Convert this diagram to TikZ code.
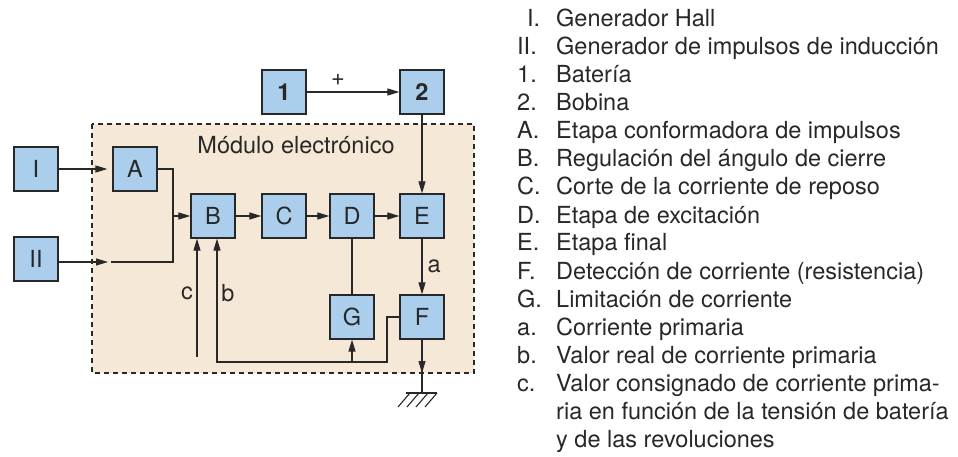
\documentclass[tikz,border=0pt]{standalone}
\usepackage{fontspec}
\setmainfont{TeX Gyre Heros}
\usetikzlibrary{arrows.meta}
\definecolor{boxblue}{RGB}{170,206,235}
\definecolor{modbg}{RGB}{246,232,214}
\definecolor{ink}{RGB}{40,40,40}
\begin{document}
\begin{tikzpicture}[x=1pt,y=-1pt,
  blk/.style={draw=ink, line width=1.2pt, fill=boxblue, minimum size=44pt, inner sep=0pt, text=ink, font=\fontsize{23.5}{28}\selectfont},
  wire/.style={draw=ink, line width=1.1pt},
  arr/.style={wire, -{Triangle[length=12pt,width=7pt]}},
  lbl/.style={font=\fontsize{23.5}{28}\selectfont, text=ink, inner sep=0pt},
  leg/.style={lbl, anchor=base west}]
\useasboundingbox (0,0) rectangle (958,457);
\fill[white] (0,0) rectangle (958,457);
% module
\filldraw[fill=modbg, draw=ink, line width=1.1pt, dash pattern=on 5pt off 4pt] (92,124) rectangle (474,373);
\node[lbl] (mod) at (296,145) {Módulo electrónico};
% blocks
\node[blk] (one) at (284,92) {\textbf{1}};
\node[blk] (two) at (422,92) {\textbf{2}};
\node[blk] (I) at (36,169) {I};
\node[blk] (II) at (36,259) {II};
\node[blk] (A) at (135,169) {A};
\node[blk] (B) at (213,216) {B};
\node[blk] (C) at (284,216) {C};
\node[blk] (D) at (352,216) {D};
\node[blk] (E) at (422,216) {E};
\node[blk] (G) at (352,317) {G};
\node[blk] (F) at (422,317) {F};
% coordinates
\coordinate (jA) at (173,216);
\coordinate (jII) at (173,262);
\coordinate (IIend) at (111,262);
\coordinate (IItip) at (108,262);
\coordinate (gtip) at (422,373);
\coordinate (gnd) at (422,393);
\coordinate (fb2) at (387,362);
\coordinate (fbG) at (352,362);
\coordinate (fbB) at (217,362);
\coordinate (cstart) at (197,357);
% connectors
\draw[arr] (one) -- (two);
\node[lbl] (plus) at (338,80) {+};
\draw[arr, shorten >=5pt] (I) -- (A);
\draw[arr] (II.east |- IItip) -- (IItip);
\draw[wire] (A.east) -| (jII) -- (IIend);
\draw[arr] (jA) -- (B.west);
\draw[arr] (B) -- (C);
\draw[arr] (C) -- (D);
\draw[arr] (D) -- (E);
\draw[arr] (two) -- (E);
\draw[arr] (E) -- node[lbl, right=5pt] (alab) {a} (F);
\draw[wire] (D) -- (G);
\draw[wire] (F.south) -- (gnd);
\draw[arr] (F.south) -- (gtip);
\draw[wire] (406,393) -- (437,393);
\foreach \gx in {410,419,428,437} \draw[wire] (\gx,393) -- ++(-12,14);
\draw[arr] (F.west) -| (fb2) -- (fbB) -- (B.south -| fbB);
\draw[arr] (fbG) -- (G.south);
\draw[arr] (cstart) -- (B.south -| cstart);
\node[lbl] (clab) at (187,293) {c};
\node[lbl] (blab) at (228,293) {b};
% legend
\node[leg] at (527,27) {I.};
\node[leg] at (556,27) {Generador Hall};
\node[leg] at (517,55) {II.};
\node[leg] at (556,55) {Generador de impulsos de inducción};
\node[leg] at (517,83) {1.};
\node[leg] at (556,83) {Batería};
\node[leg] at (517,111) {2.};
\node[leg] at (556,111) {Bobina};
\node[leg] at (517,139) {A.};
\node[leg] at (556,139) {Etapa conformadora de impulsos};
\node[leg] at (517,167) {B.};
\node[leg] at (556,167) {Regulación del ángulo de cierre};
\node[leg] at (517,195) {C.};
\node[leg] at (556,195) {Corte de la corriente de reposo};
\node[leg] at (517,223) {D.};
\node[leg] at (556,223) {Etapa de excitación};
\node[leg] at (517,251) {E.};
\node[leg] at (556,251) {Etapa final};
\node[leg] at (517,279) {F.};
\node[leg] at (556,279) {Detección de corriente (resistencia)};
\node[leg] at (517,307) {G.};
\node[leg] at (556,307) {Limitación de corriente};
\node[leg] at (517,335) {a.};
\node[leg] at (556,335) {Corriente primaria};
\node[leg] at (517,363) {b.};
\node[leg] at (556,363) {Valor real de corriente primaria};
\node[leg] at (517,391) {c.};
\node[leg] at (556,391) {Valor consignado de corriente prima-};
\node[leg] at (556,419) {ria en función de la tensión de batería};
\node[leg] at (556,447) {y de las revoluciones};
\end{tikzpicture}
\end{document}
